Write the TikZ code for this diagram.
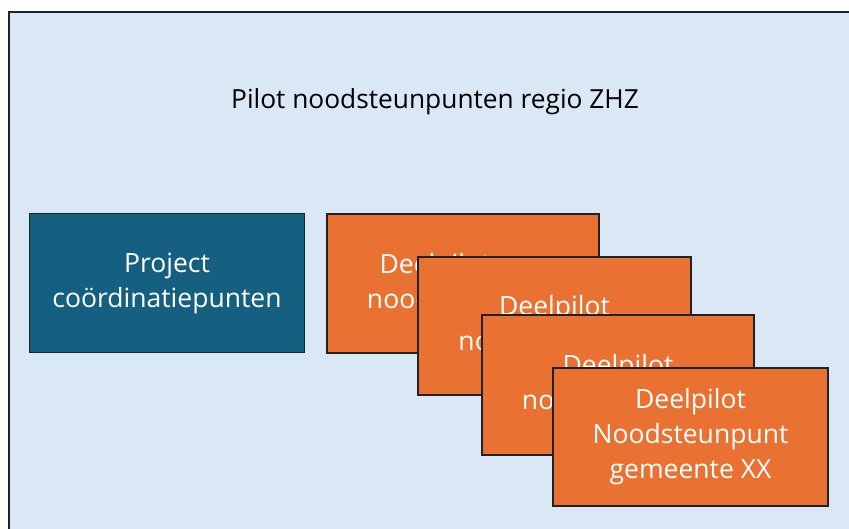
\documentclass[tikz,border=0pt]{standalone}
\usepackage{fontspec}
\setmainfont{Open Sans}
\definecolor{bgblue}{HTML}{DAE8F6}
\definecolor{darkblue}{HTML}{155F81}
\definecolor{orangebox}{HTML}{E97132}
\definecolor{edge}{HTML}{1E2328}
\begin{document}
\begin{tikzpicture}[x=1pt,y=-1pt,
  card/.style={draw=edge,line width=2pt,fill=orangebox,text=white,align=center,
    font=\fontsize{26.5}{35}\selectfont,inner sep=0pt},
  projbox/.style={draw=edge,line width=1.5pt,fill=darkblue,text=white,align=center,
    font=\fontsize{26.5}{35}\selectfont,inner sep=0pt}]
\useasboundingbox (0,0) rectangle (849,529);
\clip (0,0) rectangle (849,529);
\fill[white] (0,0) rectangle (849,529);
\draw[draw=edge,line width=2pt,fill=bgblue] (9,12) rectangle (870,560);
\node[font=\fontsize{26.3}{30}\selectfont,text=black] (title) at (435,102) {Pilot noodsteunpunten regio ZHZ};
\node[projbox,minimum width=275pt,minimum height=139pt] (proj) at (167,283) {Project\\coördinatiepunten};
\node[card,minimum width=272pt,minimum height=139pt] (d1) at (463,284) {Deelpilot\hspace*{56pt}\\noodsteunpunt};
\node[card,minimum width=273pt,minimum height=138pt] (d2) at (554.5,326) {Deelpilot\\noodsteunpunt};
\node[card,minimum width=272pt,minimum height=139pt] (d3) at (618,385) {Deelpilot\\noodsteunpunt};
\node[card,minimum width=275pt,minimum height=138pt] (d4) at (690.5,437) {Deelpilot\\Noodsteunpunt\\gemeente XX};
\end{tikzpicture}
\end{document}
